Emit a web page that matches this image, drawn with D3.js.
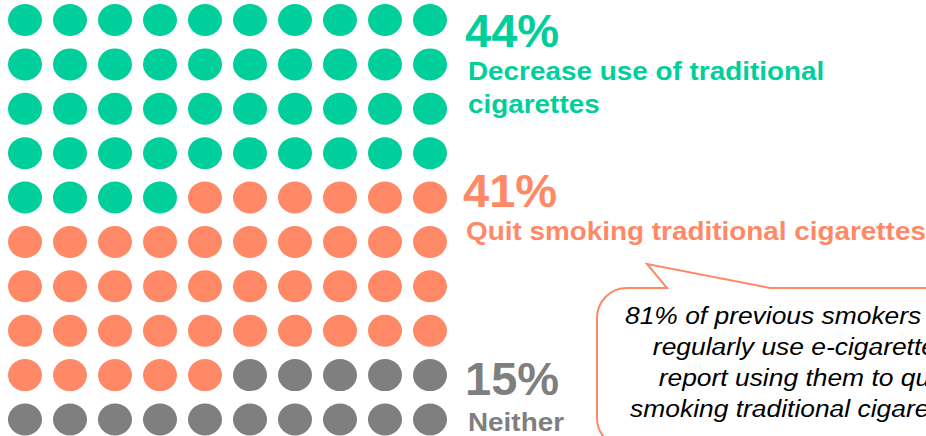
<!DOCTYPE html>
<html>
<head>
<meta charset="utf-8">
<script src="https://cdn.jsdelivr.net/npm/d3@7"></script>
<style>
  html, body { margin: 0; padding: 0; background: #fff; }
  svg { display: block; }
</style>
</head>
<body>
<svg id="chart" width="926" height="436"></svg>
<script>
// ---- data ----
const categories = ["Decrease use of traditional cigarettes", "Quit smoking traditional cigarettes", "Neither"];
const values = [44, 41, 15];
const percentLabels = ["44%", "41%", "15%"];
const labelLines = [["Decrease use of traditional", "cigarettes"], ["Quit smoking traditional cigarettes"], ["Neither"]];
const colors = ["#00CE9B", "#FF8967", "#7F7F7F"];
const calloutLines = ["81% of previous smokers who", "regularly use e-cigarettes", "report using them to quit", "smoking traditional cigarettes"];

// ---- layout ----
const W = 926, H = 436;
const svg = d3.select("#chart");
const cols = 10, rows = 10;

const x = d3.scaleLinear().domain([0, cols - 1]).range([25, 430]);
const y = d3.scaleLinear().domain([0, rows - 1]).range([20, 419.5]);
const color = d3.scaleOrdinal().domain(categories).range(colors);

// expand values into unit cells
const cells = [];
categories.forEach((c, i) => { for (let k = 0; k < values[i]; k++) cells.push(c); });

svg.append("g").selectAll("ellipse")
  .data(cells)
  .join("ellipse")
  .attr("cx", (d, i) => x(i % cols))
  .attr("cy", (d, i) => y(Math.floor(i / cols)))
  .attr("rx", 17)
  .attr("ry", 16)
  .attr("fill", d => color(d));

// ---- labels ----
const labelPos = [
  { x: 465, pctY: 47, lineY: 80 },
  { x: 463, pctY: 207, lineY: 240 },
  { x: 465, pctY: 395, lineY: 431 }
];
const font = "'Liberation Sans', Arial, sans-serif";
const lg = svg.append("g");
categories.forEach((c, i) => {
  const p = labelPos[i];
  lg.append("text")
    .attr("x", p.x).attr("y", p.pctY)
    .attr("font-family", font).attr("font-weight", "bold").attr("font-size", 47)
    .attr("fill", color(c))
    .text(percentLabels[i]);
  labelLines[i].forEach((ln, j) => {
    lg.append("text")
      .attr("transform", `translate(${p.x + 3},${p.lineY + j * 33}) scale(1.115,1)`)
      .attr("font-family", font).attr("font-weight", "bold").attr("font-size", 25)
      .attr("fill", color(c))
      .text(ln);
  });
});

// ---- callout ----
const bx = 597, by = 288, bw = 420, bh = 160, r = 30;
const tip = [647, 264], pL = 667, pR = 770;
const path = d3.path();
path.moveTo(bx + r, by);
path.lineTo(pL, by);
path.lineTo(tip[0], tip[1]);
path.lineTo(pR, by);
path.lineTo(bx + bw - r, by);
path.arcTo(bx + bw, by, bx + bw, by + r, r);
path.lineTo(bx + bw, by + bh - r);
path.arcTo(bx + bw, by + bh, bx + bw - r, by + bh, r);
path.lineTo(bx + r, by + bh);
path.arcTo(bx, by + bh, bx, by + bh - r, r);
path.lineTo(bx, by + r);
path.arcTo(bx, by, bx + r, by, r);
path.closePath();
svg.append("path")
  .attr("d", path.toString())
  .attr("fill", "#fff")
  .attr("stroke", "#FF8967")
  .attr("stroke-width", 2);

const cx = 801;
const cg = svg.append("g");
calloutLines.forEach((ln, i) => {
  cg.append("text")
    .attr("transform", `translate(${cx},${324 + i * 31}) scale(1.1,1)`)
    .attr("text-anchor", "middle")
    .attr("font-family", font).attr("font-style", "italic").attr("font-size", 24)
    .attr("fill", "#000")
    .text(ln);
});
</script>
</body>
</html>
